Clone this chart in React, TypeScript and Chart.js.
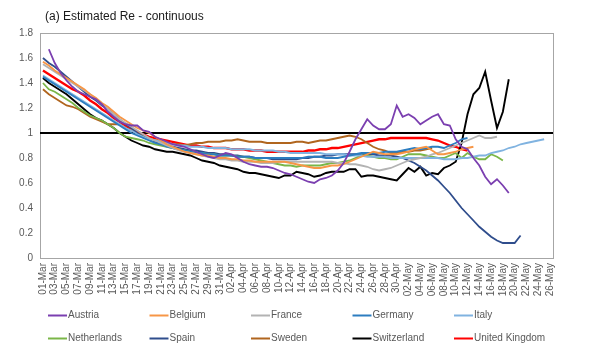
import React, { useEffect, useRef } from "react";
import { Chart, registerables } from "chart.js";

Chart.register(...registerables);

const TITLE = "(a) Estimated Re - continuous";
const REF_VALUE = 1;

const categories = [
  "01-Mar","02-Mar","03-Mar","04-Mar","05-Mar","06-Mar","07-Mar","08-Mar","09-Mar","10-Mar",
  "11-Mar","12-Mar","13-Mar","14-Mar","15-Mar","16-Mar","17-Mar","18-Mar","19-Mar","20-Mar",
  "21-Mar","22-Mar","23-Mar","24-Mar","25-Mar","26-Mar","27-Mar","28-Mar","29-Mar","30-Mar","31-Mar",
  "01-Apr","02-Apr","03-Apr","04-Apr","05-Apr","06-Apr","07-Apr","08-Apr","09-Apr","10-Apr",
  "11-Apr","12-Apr","13-Apr","14-Apr","15-Apr","16-Apr","17-Apr","18-Apr","19-Apr","20-Apr",
  "21-Apr","22-Apr","23-Apr","24-Apr","25-Apr","26-Apr","27-Apr","28-Apr","29-Apr","30-Apr",
  "01-May","02-May","03-May","04-May","05-May","06-May","07-May","08-May","09-May","10-May",
  "11-May","12-May","13-May","14-May","15-May","16-May","17-May","18-May","19-May","20-May",
  "21-May","22-May","23-May","24-May","25-May","26-May"
];

const yTicks = [0, 0.2, 0.4, 0.6, 0.8, 1, 1.2, 1.4, 1.6, 1.8];

const austria = [null, 1.67, 1.56, 1.48, 1.42, 1.37, 1.33, 1.31, 1.29, 1.27, 1.23, 1.17, 1.13, 1.09, 1.07, 1.06, 1.06, 1.02, 1.01, 0.97, 0.95, 0.93, 0.91, 0.90, 0.89, 0.87, 0.85, 0.83, 0.81, 0.80, 0.82, 0.84, 0.83, 0.80, 0.77, 0.75, 0.74, 0.73, 0.73, 0.72, 0.70, 0.68, 0.67, 0.65, 0.63, 0.61, 0.60, 0.63, 0.64, 0.66, 0.70, 0.76, 0.85, 0.95, 1.03, 1.11, 1.06, 1.03, 1.03, 1.07, 1.22, 1.13, 1.15, 1.12, 1.07, 1.10, 1.13, 1.15, 1.07, 1.06, 0.95, 0.89, 0.87, 0.80, 0.74, 0.65, 0.59, 0.63, 0.58, 0.52];
const belgium = [1.57, 1.54, 1.50, 1.47, 1.44, 1.41, 1.38, 1.35, 1.31, 1.28, 1.24, 1.21, 1.17, 1.13, 1.10, 1.07, 1.04, 1.02, 1.00, 0.97, 0.94, 0.91, 0.89, 0.87, 0.85, 0.84, 0.83, 0.82, 0.82, 0.81, 0.80, 0.80, 0.79, 0.79, 0.78, 0.78, 0.77, 0.77, 0.77, 0.77, 0.77, 0.77, 0.76, 0.75, 0.74, 0.73, 0.72, 0.72, 0.73, 0.74, 0.74, 0.75, 0.77, 0.79, 0.81, 0.83, 0.85, 0.84, 0.83, 0.83, 0.83, 0.84, 0.85, 0.87, 0.88, 0.89, 0.86, 0.83, 0.83, 0.84, 0.85, 0.87, 0.88, 0.89];
const france = [1.55, 1.52, 1.49, 1.46, 1.43, 1.40, 1.37, 1.34, 1.31, 1.27, 1.23, 1.19, 1.15, 1.11, 1.08, 1.05, 1.02, 0.99, 0.96, 0.94, 0.92, 0.90, 0.88, 0.86, 0.85, 0.84, 0.83, 0.82, 0.81, 0.80, 0.79, 0.79, 0.78, 0.78, 0.77, 0.77, 0.77, 0.76, 0.76, 0.76, 0.77, 0.77, 0.77, 0.77, 0.77, 0.77, 0.77, 0.77, 0.77, 0.77, 0.76, 0.76, 0.75, 0.75, 0.74, 0.73, 0.71, 0.70, 0.71, 0.72, 0.74, 0.76, 0.78, 0.79, 0.80, 0.81, 0.83, 0.84, 0.86, 0.88, 0.90, 0.92, 0.94, 0.96, 0.98, 0.96, 0.96, 0.97];
const germany = [1.45, 1.42, 1.39, 1.36, 1.33, 1.30, 1.27, 1.24, 1.21, 1.18, 1.15, 1.12, 1.09, 1.06, 1.03, 1.00, 0.98, 0.96, 0.94, 0.92, 0.91, 0.89, 0.88, 0.87, 0.86, 0.85, 0.84, 0.84, 0.83, 0.83, 0.82, 0.82, 0.82, 0.81, 0.81, 0.81, 0.80, 0.80, 0.80, 0.80, 0.80, 0.80, 0.80, 0.80, 0.80, 0.81, 0.81, 0.81, 0.80, 0.80, 0.80, 0.81, 0.82, 0.83, 0.84, 0.84, 0.84, 0.84, 0.85, 0.85, 0.85, 0.86, 0.87, 0.88, 0.87, 0.88, 0.89, 0.89, 0.88, 0.90, 0.92, 0.95, 0.96];
const italy = [1.46, 1.43, 1.40, 1.37, 1.34, 1.31, 1.28, 1.25, 1.22, 1.19, 1.16, 1.13, 1.10, 1.07, 1.04, 1.02, 0.99, 0.97, 0.95, 0.94, 0.93, 0.92, 0.91, 0.90, 0.90, 0.89, 0.89, 0.89, 0.88, 0.88, 0.88, 0.88, 0.87, 0.87, 0.87, 0.87, 0.86, 0.86, 0.86, 0.86, 0.85, 0.85, 0.84, 0.84, 0.84, 0.84, 0.84, 0.84, 0.83, 0.83, 0.83, 0.83, 0.82, 0.82, 0.82, 0.81, 0.81, 0.81, 0.81, 0.80, 0.80, 0.80, 0.80, 0.80, 0.80, 0.80, 0.80, 0.80, 0.79, 0.79, 0.79, 0.80, 0.80, 0.81, 0.82, 0.82, 0.84, 0.85, 0.86, 0.88, 0.89, 0.91, 0.92, 0.93, 0.94, 0.95];
const netherlands = [1.40, 1.35, 1.33, 1.30, 1.27, 1.24, 1.20, 1.17, 1.14, 1.12, 1.10, 1.07, 1.04, 1.00, 0.97, 0.96, 0.95, 0.94, 0.92, 0.91, 0.90, 0.89, 0.88, 0.87, 0.86, 0.85, 0.84, 0.84, 0.83, 0.83, 0.82, 0.82, 0.82, 0.81, 0.81, 0.80, 0.79, 0.78, 0.77, 0.76, 0.75, 0.74, 0.74, 0.73, 0.74, 0.74, 0.74, 0.74, 0.75, 0.76, 0.76, 0.77, 0.78, 0.80, 0.82, 0.82, 0.81, 0.80, 0.80, 0.79, 0.79, 0.81, 0.83, 0.83, 0.83, 0.82, 0.81, 0.80, 0.80, 0.82, 0.84, 0.80, 0.84, 0.81, 0.79, 0.79, 0.83, 0.81, 0.78];
const spain = [1.60, 1.56, 1.53, 1.49, 1.45, 1.41, 1.37, 1.33, 1.29, 1.26, 1.22, 1.19, 1.15, 1.11, 1.07, 1.04, 1.00, 0.97, 0.95, 0.93, 0.91, 0.90, 0.89, 0.88, 0.87, 0.86, 0.86, 0.85, 0.84, 0.84, 0.83, 0.83, 0.82, 0.82, 0.81, 0.81, 0.80, 0.80, 0.80, 0.79, 0.79, 0.79, 0.79, 0.79, 0.80, 0.80, 0.81, 0.81, 0.82, 0.82, 0.83, 0.83, 0.83, 0.83, 0.83, 0.83, 0.83, 0.82, 0.82, 0.82, 0.81, 0.80, 0.78, 0.76, 0.73, 0.70, 0.66, 0.62, 0.57, 0.52, 0.46, 0.40, 0.35, 0.30, 0.25, 0.21, 0.17, 0.14, 0.12, 0.12, 0.12, 0.18];
const sweden = [1.35, 1.31, 1.28, 1.25, 1.22, 1.21, 1.19, 1.16, 1.13, 1.11, 1.09, 1.07, 1.07, 1.07, 1.04, 1.02, 1.00, 0.98, 0.96, 0.94, 0.93, 0.92, 0.91, 0.91, 0.90, 0.91, 0.92, 0.92, 0.93, 0.93, 0.93, 0.94, 0.94, 0.95, 0.94, 0.93, 0.93, 0.93, 0.92, 0.92, 0.92, 0.92, 0.92, 0.93, 0.93, 0.92, 0.93, 0.94, 0.94, 0.95, 0.96, 0.97, 0.98, 0.97, 0.95, 0.92, 0.89, 0.87, 0.86, 0.84, 0.84, 0.85, 0.85, 0.86, 0.86, 0.87, 0.88];
const switzerland = [1.44, 1.40, 1.37, 1.34, 1.31, 1.27, 1.23, 1.19, 1.15, 1.12, 1.10, 1.07, 1.04, 1.00, 0.97, 0.94, 0.92, 0.90, 0.89, 0.87, 0.86, 0.85, 0.85, 0.84, 0.83, 0.82, 0.80, 0.78, 0.77, 0.76, 0.74, 0.73, 0.72, 0.71, 0.69, 0.68, 0.68, 0.67, 0.66, 0.65, 0.64, 0.66, 0.66, 0.69, 0.68, 0.67, 0.65, 0.66, 0.68, 0.69, 0.69, 0.69, 0.71, 0.71, 0.65, 0.66, 0.66, 0.65, 0.64, 0.63, 0.62, 0.67, 0.72, 0.69, 0.73, 0.66, 0.68, 0.67, 0.72, 0.74, 0.77, 0.92, 1.15, 1.31, 1.36, 1.49, 1.26, 1.04, 1.17, 1.43];
const unitedKingdom = [1.50, 1.47, 1.44, 1.41, 1.38, 1.35, 1.33, 1.30, 1.26, 1.23, 1.19, 1.16, 1.12, 1.09, 1.06, 1.03, 1.01, 0.99, 0.97, 0.96, 0.95, 0.94, 0.93, 0.92, 0.91, 0.90, 0.90, 0.89, 0.89, 0.88, 0.88, 0.88, 0.87, 0.87, 0.87, 0.86, 0.86, 0.86, 0.85, 0.85, 0.85, 0.85, 0.85, 0.85, 0.85, 0.86, 0.86, 0.87, 0.87, 0.88, 0.88, 0.89, 0.90, 0.91, 0.92, 0.93, 0.94, 0.95, 0.95, 0.96, 0.96, 0.96, 0.96, 0.96, 0.96, 0.96, 0.95, 0.94, 0.92, 0.90, 0.89, 0.87, 0.86];

const seriesNames = ["Austria", "Belgium", "France", "Germany", "Italy", "Netherlands", "Spain", "Sweden", "Switzerland", "United Kingdom"];
const seriesValues = [austria, belgium, france, germany, italy, netherlands, spain, sweden, switzerland, unitedKingdom];
const seriesColors = ["#7B3FB0", "#F79646", "#B3B3B3", "#2C7DC0", "#80B3E0", "#7AB648", "#2F4D8C", "#B0651E", "#000000", "#FF0000"];
const seriesWidths = [1.8, 1.8, 1.8, 1.8, 1.8, 1.8, 1.8, 1.8, 1.9, 2.3];

const FONT = "'Liberation Sans', Arial, sans-serif";

const decorPlugin = {
  id: "decor",
  beforeDatasetsDraw(chart: any) {
    const { ctx, chartArea } = chart;
    const { left, right, top, bottom } = chartArea;
    const yScale = chart.scales.y;
    ctx.save();
    ctx.strokeStyle = "#A6A6A6";
    ctx.lineWidth = 1;
    ctx.strokeRect(Math.round(left) + 0.5, Math.round(top) + 0.5, Math.round(right - left), Math.round(bottom - top));
    const yRef = yScale.getPixelForValue(REF_VALUE);
    ctx.strokeStyle = "#000000";
    ctx.lineWidth = 2;
    ctx.beginPath();
    ctx.moveTo(left, yRef);
    ctx.lineTo(right, yRef);
    ctx.stroke();
    ctx.restore();
  },
  afterDraw(chart: any) {
    const { ctx } = chart;
    ctx.save();
    ctx.fillStyle = "#1A1A1A";
    ctx.font = `12px ${FONT}`;
    ctx.textBaseline = "middle";
    ctx.textAlign = "left";
    ctx.fillText(TITLE, 45, 17);

    ctx.font = `10px ${FONT}`;
    chart.data.datasets.forEach((ds: any, k: number) => {
      const col = k % 5;
      const row = Math.floor(k / 5);
      const x0 = 48 + col * 101.5;
      const y0 = 315.5 + row * 23;
      ctx.strokeStyle = ds.borderColor;
      ctx.lineWidth = 2;
      ctx.beginPath();
      ctx.moveTo(x0, y0);
      ctx.lineTo(x0 + 19, y0);
      ctx.stroke();
      ctx.fillStyle = "#595959";
      ctx.fillText(ds.label, x0 + 20, y0);
    });
    ctx.restore();
  },
};

export default function App() {
  const canvasRef = useRef<HTMLCanvasElement | null>(null);

  useEffect(() => {
    if (!canvasRef.current) return;
    const datasets = seriesNames.map((name, k) => ({
      label: name,
      data: seriesValues[k],
      borderColor: seriesColors[k],
      backgroundColor: seriesColors[k],
      borderWidth: seriesWidths[k],
      pointRadius: 0,
      pointHoverRadius: 0,
      tension: 0,
      fill: false,
      spanGaps: false,
    }));
    const chart = new Chart(canvasRef.current, {
      type: "line",
      data: { labels: categories, datasets },
      options: {
        responsive: false,
        animation: false,
        events: [],
        layout: { padding: { left: 0, right: 49, top: 33, bottom: 0 } },
        plugins: {
          legend: { display: false },
          title: { display: false },
          tooltip: { enabled: false },
        },
        scales: {
          x: {
            type: "category",
            offset: true,
            grid: { display: false, drawTicks: false },
            border: { display: false },
            ticks: {
              autoSkip: false,
              minRotation: 90,
              maxRotation: 90,
              padding: 5,
              color: "#595959",
              font: { family: FONT, size: 10 },
              callback: (_v: any, i: number) => (i % 2 === 0 ? categories[i] : ""),
            },
            afterFit: (scale: any) => {
              scale.height = 92;
            },
          },
          y: {
            min: yTicks[0],
            max: yTicks[yTicks.length - 1],
            grid: { display: false, drawTicks: false },
            border: { display: false },
            afterBuildTicks: (scale: any) => {
              scale.ticks = yTicks.map((v) => ({ value: v }));
            },
            ticks: {
              padding: 7,
              color: "#595959",
              font: { family: FONT, size: 10 },
              callback: (v: any) => String(Math.round(Number(v) * 10) / 10),
            },
            afterFit: (scale: any) => {
              scale.width = 40;
            },
          },
        },
      },
      plugins: [decorPlugin],
    });
    return () => chart.destroy();
  }, []);

  return (
    <div style={{ position: "absolute", left: 0, top: 0, width: 602, height: 350, background: "#ffffff" }}>
      <canvas ref={canvasRef} width={602} height={350} style={{ display: "block", width: 602, height: 350 }} />
    </div>
  );
}
